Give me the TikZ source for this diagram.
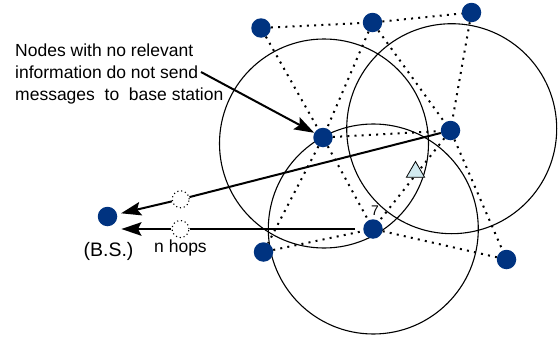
\documentclass[tikz,border=0pt]{standalone}
\usepackage{fontspec}
\setmainfont{Liberation Sans}
\usetikzlibrary{arrows.meta,shapes.geometric}
\definecolor{nodeblue}{RGB}{0,51,128}
\definecolor{trifill}{RGB}{210,234,240}
\begin{document}
\begin{tikzpicture}[x=1pt,y=-1pt,
  sensor/.style={circle,fill=nodeblue,minimum size=19.5pt,inner sep=0pt},
  hop/.style={circle,draw,dash pattern=on 1.1pt off 2.8pt,line width=1.1pt,minimum size=17pt,inner sep=0pt},
  link/.style={line width=2pt,dash pattern=on 2pt off 5.2pt},
  radiorange/.style={line width=1.1pt},
  msg/.style={line width=2pt,-{Stealth[length=20pt,width=13.5pt,inset=3.5pt]}},
  lbl/.style={font=\fontsize{17.5}{22}\selectfont,inner sep=0pt}]
\useasboundingbox (0,0) rectangle (558,340);

% radio ranges
\draw[radiorange] (324,143.5) circle[radius=104.5pt];
\draw[radiorange] (451.7,128.7) circle[radius=105pt];
\draw[radiorange] (373.3,229) circle[radius=105pt];

% sensor nodes
\node[sensor] (A) at (261,28) {};
\node[sensor] (B) at (372.5,22.5) {};
\node[sensor] (C) at (471.5,12.5) {};
\node[sensor] (D) at (323,137.5) {};
\node[sensor] (E) at (450.5,130.5) {};
\node[sensor] (F) at (373,229) {};
\node[sensor] (G) at (263.5,252) {};
\node[sensor] (H) at (506.5,259.5) {};
\node[sensor] (BS) at (107.5,216.5) {};

% dotted links
\draw[link] (A) -- (B);
\draw[link] (B) -- (C);
\draw[link] (A) -- (D);
\draw[link] (B) -- (D);
\draw[link] (B) -- (E);
\draw[link] (C) -- (E);
\draw[link] (D) -- (E);
\draw[link] (D) -- (F);
\draw[link] (D) -- (G);
\draw[link] (G) -- (F);
\draw[link] (F) -- (H);
\draw[link] (E) -- (H);
\draw[link] (E) -- (F);

% event
\node[regular polygon,regular polygon sides=3,draw,fill=trifill,line width=0.8pt,minimum size=21pt,inner sep=0pt] (T) at (415.5,172) {};

% hops
\node[hop] (h1) at (180.7,199.3) {};
\node[hop] (h2) at (180.5,229) {};

% messages
\draw[line width=2pt] (E) -- (h1);
\draw[msg,shorten >=4pt] (h1) -- (BS);
\draw[line width=2pt,shorten <=8pt] (F) -- (h2);
\draw[msg,shorten >=4pt] (h2) -- (h2 -| BS.east);

% labels
\node[lbl,anchor=base west,align=left] (note) at (15,100) {Nodes with no relevant\\information do not send\\messages\ \ to\ \ base station};
\coordinate (noteend) at (201,72);
\draw[msg] (noteend) -- (D);
\node[lbl,font=\fontsize{19.5}{22}\selectfont] (bsl) at (108.5,251.5) {(B.S.)};
\node[lbl] (nh) at (180.5,248) {n hops};
\node[font=\fontsize{14}{16}\selectfont,inner sep=0pt] (seven) at (375,211) {7};
\end{tikzpicture}
\end{document}
